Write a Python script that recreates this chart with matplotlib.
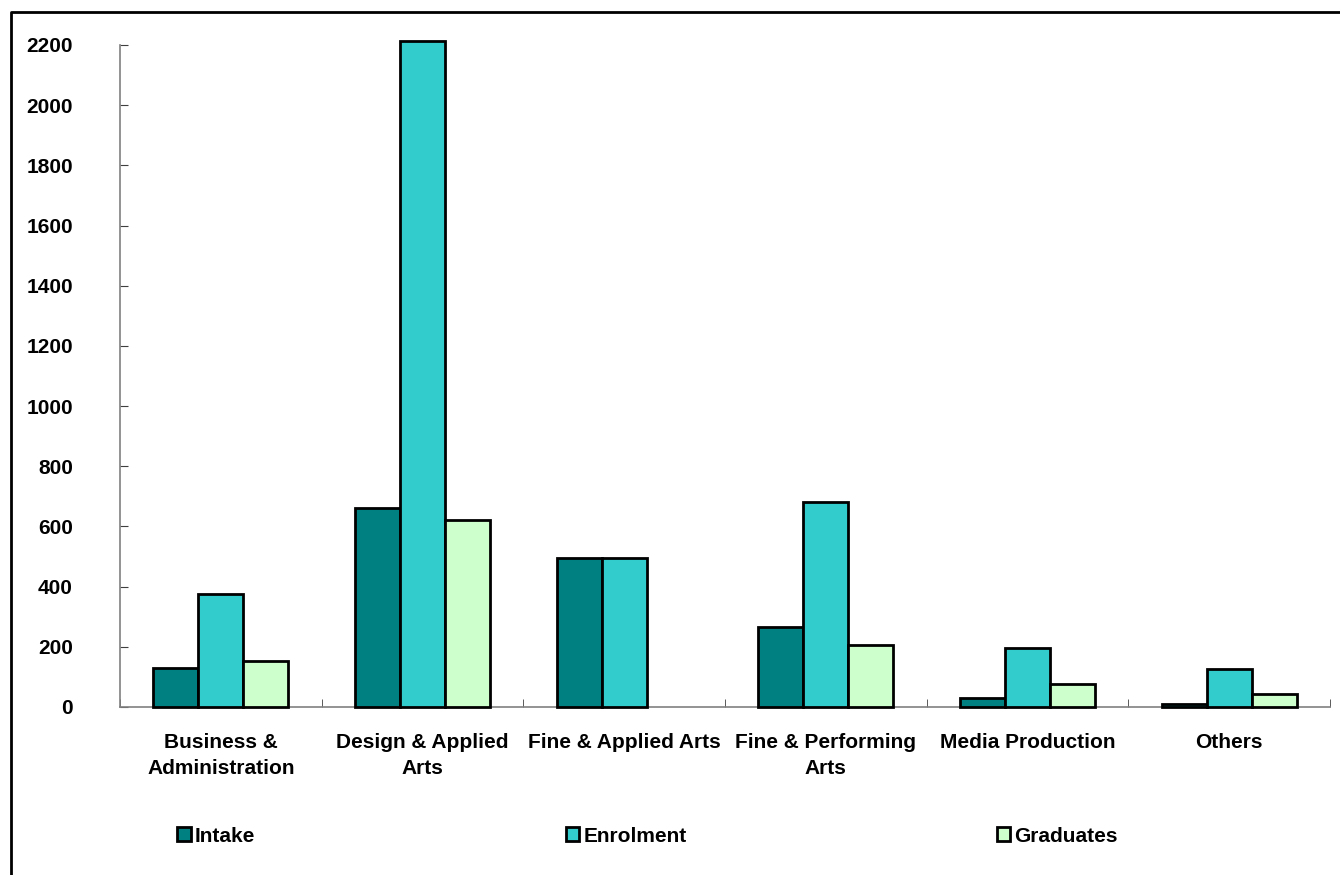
import numpy as np
import matplotlib
matplotlib.use("Agg")
import matplotlib.pyplot as plt
from matplotlib.lines import Line2D
from matplotlib.patches import Patch

plt.rcParams['font.family'] = ['Liberation Sans', 'DejaVu Sans']
plt.rcParams['font.weight'] = 'bold'

# data
categories = ["Business &\nAdministration", "Design & Applied\nArts", "Fine & Applied Arts",
              "Fine & Performing\nArts", "Media Production", "Others"]
intake = [130, 661, 494, 265, 29, 10]
enrolment = [375, 2212, 494, 681, 195, 127]
graduates = [152, 621, np.nan, 206, 76, 43]

series = ["Intake", "Enrolment", "Graduates"]
colors = ["#008080", "#33CCCC", "#CCFFCC"]

fig = plt.figure(figsize=(13.4, 8.75), dpi=100)
ax = fig.add_axes([120/1340, 1-707/875, 1210/1340, 662/875])

x = np.arange(len(categories))
w = 0.223
for k, vals in enumerate([intake, enrolment, graduates]):
    ax.bar(x + (k-1)*w, vals, width=w, color=colors[k], edgecolor='black',
           linewidth=2.0, zorder=3, clip_on=False)

ax.set_xlim(-0.5, len(categories)-0.5)
ax.set_ylim(0, 2200)
ax.set_yticks(np.arange(0, 2201, 200))
ax.set_xticks(x)
ax.set_xticklabels(categories, fontsize=15, fontweight='bold', linespacing=1.45)
ax.set_xticks(np.arange(-0.5, len(categories)), minor=True)
ax.tick_params(axis='x', which='major', length=0, pad=19)
ax.tick_params(axis='x', which='minor', direction='in', length=6, color='#404040')
ax.tick_params(axis='y', direction='in', length=6, color='#404040', labelsize=15, pad=34)
for lab in ax.get_yticklabels():
    lab.set_fontweight('bold')

for s in ['top', 'right']:
    ax.spines[s].set_visible(False)
for s in ['left', 'bottom']:
    ax.spines[s].set_color('#808080')
    ax.spines[s].set_linewidth(1.2)

handles = [Patch(facecolor=c, edgecolor='black', linewidth=2.0) for c in colors]
fig.legend(handles, series, loc='center left', bbox_to_anchor=(177/1340, 1-836/875),
           ncol=3, frameon=False, borderpad=0, borderaxespad=0, handlelength=0.65,
           handleheight=0.65, handletextpad=0.2, columnspacing=14.9,
           prop={'size': 15, 'weight': 'bold'})

# partial frame around the chart area
fig.add_artist(Line2D([11/1340, 11/1340, 1], [0, 1-12/875, 1-12/875],
                      transform=fig.transFigure, color='black', linewidth=2))

fig.savefig("out.png", dpi=100)
